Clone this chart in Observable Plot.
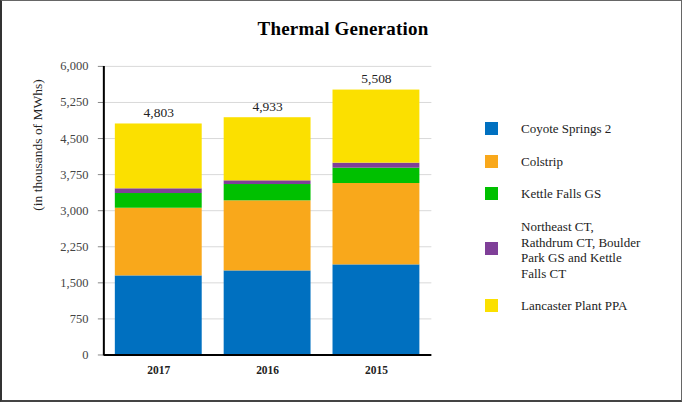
<!DOCTYPE html>
<html>
<head>
<meta charset="utf-8">
<script src="https://cdn.jsdelivr.net/npm/d3@7"></script>
<script src="https://cdn.jsdelivr.net/npm/@observablehq/plot@0.6"></script>
<style>
  html, body { margin: 0; padding: 0; background: #fff; }
  #wrap { position: relative; width: 682px; height: 402px; box-sizing: border-box;
          border: 1px solid #666; border-left: 2px solid #333; border-bottom: 2px solid #444;
          font-family: "Liberation Serif", "Times New Roman", serif; overflow: hidden; }
  #title { position: absolute; left: 0; width: 682px; top: 17px; text-align: center;
           font-weight: bold; font-size: 19px; color: #000; letter-spacing: 0.2px; }
  #chart { position: absolute; left: -2px; top: -1px; }
  #chart text { font-family: "Liberation Serif", serif !important; }
  .leg { position: absolute; left: 519px; font-size: 13px; color: #222; line-height: 15.6px; }
  .sw { position: absolute; left: 483px; width: 13px; height: 13px; }
</style>
</head>
<body>
<div id="wrap">
  <div id="chart"></div>
  <div id="title">Thermal Generation</div>
  <div id="legend"></div>
</div>
<script>
const years = ["2017", "2016", "2015"];
const seriesNames = [
  "Coyote Springs 2",
  "Colstrip",
  "Kettle Falls GS",
  "Northeast CT, Rathdrum CT, Boulder Park GS and Kettle Falls CT",
  "Lancaster Plant PPA"
];
const seriesColors = ["#0070C0", "#F9A81B", "#00C000", "#7F3F98", "#FBE000"];
const coyoteSprings = [1644, 1748, 1873];
const colstrip = [1407, 1457, 1692];
const kettleFallsGS = [306, 339, 319];
const peakers = [98, 77, 104];
const lancaster = [1348, 1312, 1520];
const totals = [4803, 4933, 5508];
const yTicks = [0, 750, 1500, 2250, 3000, 3750, 4500, 5250, 6000];

const seriesValues = [coyoteSprings, colstrip, kettleFallsGS, peakers, lancaster];
const rows = [];
seriesNames.forEach((s, i) => years.forEach((y, j) => rows.push({year: y, series: s, value: seriesValues[i][j]})));
const totalRows = years.map((y, j) => ({year: y, total: totals[j]}));

const FF = "Liberation Serif";
const fmt = d3.format(",");
const chart = Plot.plot({
  width: 682,
  height: 402,
  marginLeft: 104,
  marginRight: 250,
  marginTop: 66,
  marginBottom: 47,
  style: {fontFamily: FF, background: "transparent"},
  x: {domain: years, paddingInner: 0.2, paddingOuter: 0.1, label: null},
  y: {domain: [0, 6000], ticks: yTicks, label: null},
  color: {domain: seriesNames, range: seriesColors},
  marks: [
    Plot.gridY(yTicks, {stroke: "#d9d9d9", strokeOpacity: 1, strokeWidth: 1}),
    Plot.barY(rows, {x: "year", y: "value", fill: "series", order: seriesNames}),
    Plot.ruleY([0], {stroke: "#000", strokeWidth: 2}),
    Plot.axisY({ticks: yTicks, tickFormat: fmt, tickSize: 6, tickPadding: 10, stroke: "#888", fontSize: 12.5, fontFamily: FF, fill: "#444", label: null}),
    Plot.axisX({tickSize: 0, tickPadding: 11, fontSize: 11.5, fontFamily: FF, fontWeight: "bold", fill: "#222", label: null}),
    Plot.text(totalRows, {x: "year", y: "total", text: d => fmt(d.total), dy: -11, fontSize: 13.5, fontFamily: FF, fill: "#222"}),
    Plot.text(["(in thousands of MWhs)"], {frameAnchor: "left", dx: -67, dy: 0, rotate: -90, fontSize: 13.5, fontFamily: FF, fill: "#222", text: d => d})
  ]
});
document.getElementById("chart").appendChild(chart);

// left axis line
const svg = d3.select(chart);
const yScale = chart.scale("y");
svg.append("line").attr("x1", 104).attr("x2", 104).attr("y1", yScale.apply(6000)).attr("y2", yScale.apply(0) + 1)
  .attr("stroke", "#000").attr("stroke-width", 2);

// legend
const legendPos = [
  {sw: 121, tx: 120},
  {sw: 154, tx: 153},
  {sw: 186, tx: 185},
  {sw: 241, tx: 218},
  {sw: 298, tx: 297}
];
const legend = document.getElementById("legend");
const legendLabels = ["Coyote Springs 2", "Colstrip", "Kettle Falls GS",
  "Northeast CT,<br>Rathdrum CT, Boulder<br>Park GS and Kettle<br>Falls CT", "Lancaster Plant PPA"];
seriesNames.forEach((s, i) => {
  const sw = document.createElement("div");
  sw.className = "sw"; sw.style.top = legendPos[i].sw + "px"; sw.style.background = seriesColors[i];
  legend.appendChild(sw);
  const t = document.createElement("div");
  t.className = "leg"; t.style.top = legendPos[i].tx + "px"; t.innerHTML = legendLabels[i];
  legend.appendChild(t);
});
</script>
</body>
</html>
